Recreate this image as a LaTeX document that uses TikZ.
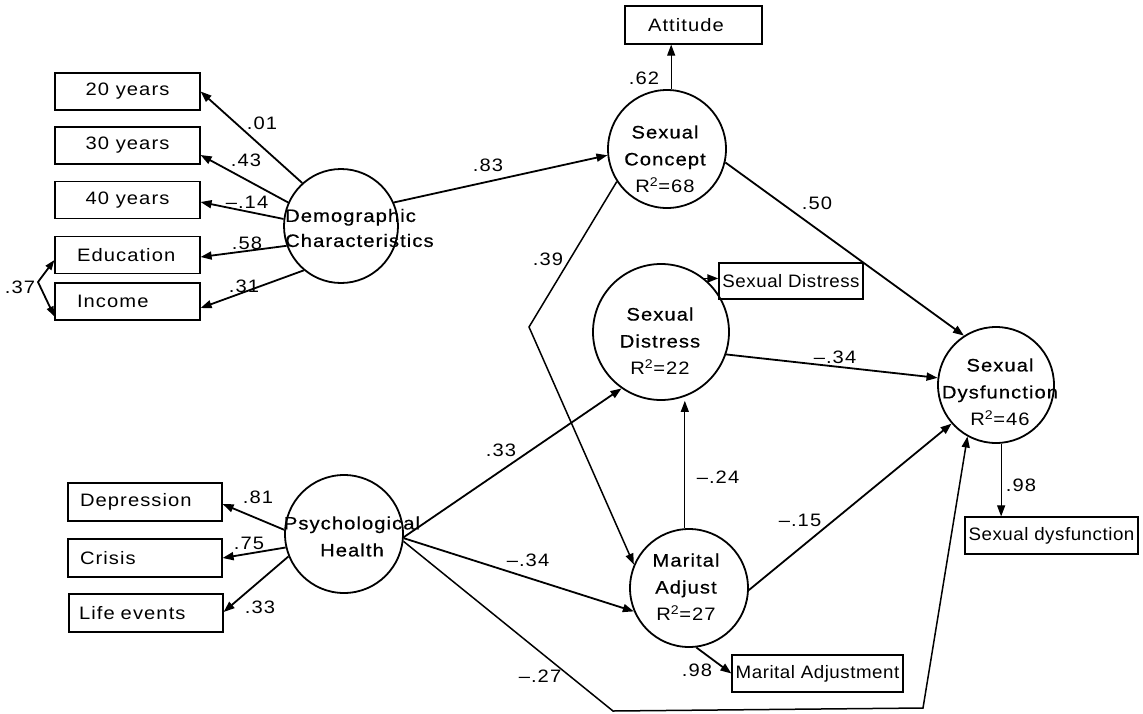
\documentclass[tikz,border=0pt]{standalone}
\usepackage{fontspec}
\setmainfont{Liberation Sans}[FakeStretch=1.12,LetterSpace=6]
\newfontfamily\latfont{Liberation Sans}[FakeStretch=1.12,LetterSpace=6,FakeBold=0.6]
\newfontfamily\boxfont{Liberation Sans}[FakeStretch=1.04,LetterSpace=3]
\usetikzlibrary{arrows.meta}
\tikzset{
  lat/.style={circle, draw, line width=1.8pt, inner sep=0pt},
  obs/.style={draw, line width=1.2pt, inner sep=0pt, minimum height=37pt, font=\fontsize{18}{22}\selectfont},
  lab/.style={inner sep=0pt, font=\fontsize{18}{22}\selectfont},
  ltxt/.style={inner sep=0pt, align=center, font=\fontsize{18}{27}\selectfont},
  pth/.style={line width=1.8pt, -{Triangle[length=11pt,width=8pt]}},
  midarrow/.style={line width=1.5pt, -{Triangle[length=11pt,width=8pt]}},
  thinarrow/.style={line width=1.1pt, -{Triangle[length=11pt,width=8pt]}},
  covarrow/.style={line width=1.8pt, {Triangle[length=10pt,width=7pt]}-{Triangle[length=10pt,width=7pt]}},
}
\begin{document}
\begin{tikzpicture}[x=1pt,y=-1pt]
\useasboundingbox (0,0) rectangle (1143,713);

% latent variables
\node[lat, minimum size=114pt] (D) at (341,226) {};
\node[lat, minimum size=118pt] (P) at (344,534) {};
\node[lat, minimum size=118pt] (C) at (667,149) {};
\node[lat, minimum size=136pt] (S) at (661,332) {};
\node[lat, minimum size=118pt] (M) at (689,588) {};
\node[lat, minimum size=116pt] (F) at (996,385) {};

\node[ltxt, align=left, anchor=west] (Dt) at (285,228) {\latfont Demographic\\[-2pt]\latfont Characteristics};
\node[ltxt] (Pt) at (352,536.5) {\latfont Psychological\\\latfont Health};
\node[ltxt] (Ct) at (665,159) {\latfont Sexual\\\latfont Concept\\R\textsuperscript{2}=68};
\node[ltxt] (St) at (660,341) {\latfont Sexual\\\latfont Distress\\R\textsuperscript{2}=22};
\node[ltxt] (Mt) at (686,587) {\latfont Marital\\\latfont Adjust\\R\textsuperscript{2}=27};
\node[ltxt] (Ft) at (1000,392) {\latfont Sexual\\\latfont Dysfunction\\R\textsuperscript{2}=46};

% observed variables
\node[obs, minimum width=145pt] (y20) at (127.5,91.5) {20 years};
\node[obs, minimum width=145pt] (y30) at (127.5,145.5) {30 years};
\node[obs, minimum width=145pt] (y40) at (127.5,200) {40 years};
\node[obs, inner xsep=22pt, text width=101pt, align=left] (edu) at (127.5,255) {Education};
\node[obs, inner xsep=22pt, text width=101pt, align=left] (inc) at (127.5,301.5) {Income};
\node[obs, inner xsep=12pt, text width=130pt, align=left, minimum height=38pt] (dep) at (145,502) {Depression};
\node[obs, inner xsep=12pt, text width=130pt, align=left, minimum height=38pt] (cri) at (145,558) {Crisis};
\node[obs, inner xsep=10pt, text width=134pt, align=left, minimum height=38pt] (life) at (146,613) {Life events};
\node[obs, inner xsep=23pt, text width=91pt, align=left, minimum height=38pt] (att) at (693.5,25) {Attitude};
\node[obs, minimum width=144pt, minimum height=36pt, font=\fontsize{18}{22}\boxfont] (sdb) at (791,281) {Sexual Distress};
\node[obs, minimum width=171pt, font=\fontsize{18}{22}\boxfont] (mab) at (817.5,673.5) {Marital Adjustment};
\node[obs, minimum width=173pt, font=\fontsize{18}{22}\boxfont] (sfb) at (1051.5,535.5) {Sexual dysfunction};

% coordinates for bends
\coordinate (cov) at (38,282);
\coordinate (b39) at (529,327);
\coordinate (b27a) at (613,711);
\coordinate (b27b) at (923,708);

% measurement paths
\draw[pth] (D.132) -- (y20.east);
\draw[pth] (D.156) -- ([yshift=-9.5pt]y30.east);
\draw[pth] (D.173) -- ([yshift=-2pt]y40.east);
\draw[pth] (D.200) -- ([yshift=-2pt]edu.east);
\draw[pth] (D.230) -- ([yshift=-6.5pt]inc.east);
\draw[covarrow] ([yshift=-5pt]edu.west) -- (cov) -- ([yshift=-15pt]inc.west);

\draw[pth] (P.176) -- ([yshift=-2pt]dep.east);
\draw[pth] (P.193) -- (cri.east);
\draw[pth] (P.202) -- ([yshift=1pt]life.east);

\draw[thinarrow] (C.86) -- (C.86 |- att.south);
\draw[pth] (S.51) -- (S.51 -| sdb.west);
\draw[pth] (M.-83) -- (mab.west);
\draw[thinarrow] (F.-85) -- (F.-85 |- sfb.north);

% structural paths
\draw[pth] (D.24) -- (C.186);
\draw[pth] (C.-13) -- (F.123);
\draw[midarrow] (C.213) -- (b39) -- (M.157);
\draw[pth] (P.-3) -- (S.235);
\draw[pth] (P.-4) -- (M.203);
\draw[midarrow] (P.-7) -- (b27a) -- (b27b) -- (F.241);
\draw[thinarrow] (M.94) -- (S.south -| M.94);
\draw[pth] (S.-19) -- (F.173);
\draw[pth] (M.-2) -- (F.221);

% coefficients
\node[lab] (l01) at (262,123) {.01};
\node[lab] (l43) at (246,160) {.43};
\node[lab] (l14) at (247,202) {\textendash.14};
\node[lab] (l58) at (247,243) {.58};
\node[lab] (l31) at (244,286) {.31};
\node[lab] (l37) at (20,287) {.37};
\node[lab] (l83) at (488,165) {.83};
\node[lab] (l62) at (644,78) {.62};
\node[lab] (l50) at (817,203) {.50};
\node[lab] (l39) at (548,259) {.39};
\node[lab] (l34a) at (835,357) {\textendash.34};
\node[lab] (l33a) at (501,450) {.33};
\node[lab] (l24) at (718,477) {\textendash.24};
\node[lab] (l15) at (800,520) {\textendash.15};
\node[lab] (l34b) at (528,560) {\textendash.34};
\node[lab] (l27) at (540,676) {\textendash.27};
\node[lab] (l98a) at (697,670) {.98};
\node[lab] (l98b) at (1021,485) {.98};
\node[lab] (l81) at (258,497) {.81};
\node[lab] (l75) at (249,543) {.75};
\node[lab] (l33b) at (260,607) {.33};
\end{tikzpicture}
\end{document}
